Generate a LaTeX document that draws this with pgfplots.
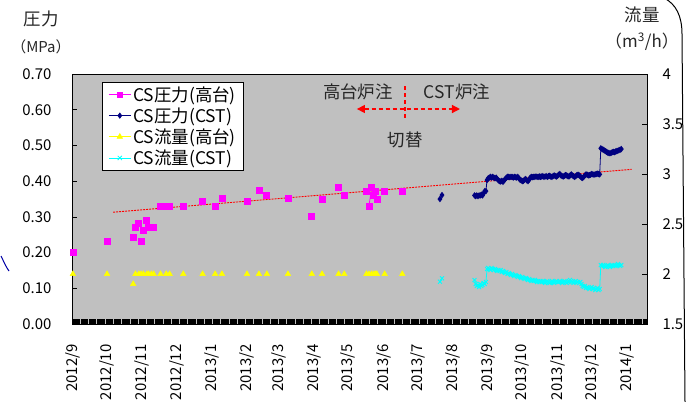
\documentclass[border=0pt]{standalone}
\usepackage{fontspec}
\setmainfont{Noto Sans CJK JP}
\usepackage{pgfplots}
\pgfplotsset{compat=1.18}
\usetikzlibrary{arrows.meta}
\definecolor{bggrey}{RGB}{192,192,192}
\definecolor{navyc}{RGB}{0,0,128}
\definecolor{magc}{RGB}{255,0,255}
\definecolor{yelc}{RGB}{255,255,0}
\definecolor{cyac}{RGB}{0,255,255}
\newcommand{\fs}{\fontsize{15}{16}\selectfont}
\newcommand{\fl}{\fontsize{17.5}{18}\selectfont}
\newcommand{\fa}{\fontsize{17.5}{19}\selectfont}
\begin{document}
\begin{tikzpicture}[x=1bp,y=1bp]
\useasboundingbox (-72,-77) rectangle (617,324);
\begin{axis}[
  at={(0,0)}, anchor=south west,
  scale only axis, width=575bp, height=250bp,
  xmin=-0.8, xmax=504.6, ymin=0, ymax=0.70,
  axis background/.style={fill=bggrey},
  axis line style={black, line width=0.8bp},
  tick align=inside, major tick length=5bp,
  xtick pos=bottom, ytick pos=left,
  xtick={0,30,61,91,122,153,181,212,242,273,303,334,365,395,426,456,487},
  xticklabels={2012/9,2012/10,2012/11,2012/12,2013/1,2013/2,2013/3,2013/4,2013/5,2013/6,2013/7,2013/8,2013/9,2013/10,2013/11,2013/12,2014/1},
  extra x ticks={0,1,...,504},
  extra x tick labels={},
  extra x tick style={major tick length=5bp, tick style={black, line width=0.45bp}},
  major tick style={black, line width=0.6bp},
  xticklabel style={yshift=-17bp, rotate=90, anchor=east, font=\fs},
  ytick={0,0.1,...,0.71},
  yticklabel style={font=\fs, xshift=-17bp, /pgf/number format/.cd, fixed, fixed zerofill, precision=2},
  /pgf/number format/assume math mode=true,
  unbounded coords=jump,
  legend cell align=left,
  legend style={at={(rel axis cs:0.0522,0.968)}, anchor=north west, fill=white, draw=black, line width=0.8bp, font=\fl, inner xsep=6bp, inner ysep=2bp, row sep=1bp},
  legend image code/.code={\draw[mark repeat=2,mark phase=2] plot coordinates {(7bp,0bp)(18bp,0bp)(29bp,0bp)};},
  clip=false,
]
\addlegendimage{magc, line width=0.8bp, mark=square*, mark size=2.5bp, mark options={solid}}
\addlegendentry{CS圧力(高台)}
\addlegendimage{navyc, line width=0.8bp, mark=diamond*, mark size=2.5bp}
\addlegendentry{CS圧力(CST)}
\addlegendimage{yelc, line width=0.8bp, mark=triangle*, mark size=3bp}
\addlegendentry{CS流量(高台)}
\addlegendimage{cyac, line width=0.8bp, mark=x, mark size=3bp}
\addlegendentry{CS流量(CST)}

% trend line
\addplot[forget plot, red, line width=0.9bp, dash pattern=on 2bp off 1bp] coordinates {(35.4,0.313) (491,0.433)};

% CS pressure (takadai)
\addplot[forget plot, magc, line width=0.8bp, mark=square*, mark size=3bp] coordinates {
(0,0.20) (1,nan) (30,0.23) (31,nan) (53,0.242) (54,nan) (55,0.27) (56,nan) (58,0.282) (59,nan)
(60,0.23) (61,nan) (62,0.261) (63,nan) (65,0.29) (66.5,0.27) (67,nan) (69,0.27) (70,nan) (71,0.27) (72,nan)
(77,0.33) (78,nan) (80,0.33) (81,nan) (82,0.33) (83,nan) (85,0.33) (86,nan) (97,0.33) (98,nan)
(114,0.342) (115,nan) (125,0.33) (126,nan) (131,0.351) (132,nan) (153,0.342) (154,nan)
(163.5,0.373) (164,nan) (170.5,0.361) (171,nan) (189,0.351) (190,nan) (210,0.30) (211,nan)
(219,0.35) (220,nan) (233.5,0.382) (234,nan) (238.5,0.361) (239,nan) (258,0.372) (259,nan)
(260.2,0.33) (262.5,0.382) (263,nan) (264.5,0.361) (265,nan) (266,0.372) (266.5,nan) (267.2,0.35) (268,nan)
(274,0.372) (275,nan) (289.5,0.372)
};

% CS pressure (CST)
\addplot[forget plot, navyc, line width=0.8bp, mark=diamond*, mark size=2.6bp] coordinates {
(322.6,0.35) (324.4,0.361) (325,nan)
(353,0.360) (354,0.358) (355,0.360) (356,0.358) (357,0.360) (358,0.360) (359,0.362) (360,0.360)
(361,0.366) (362,0.372) (363,0.372) (364,0.403) (365,0.408) (366,0.410) (367,0.412) (368,0.410)
(369,0.412) (370,0.410) (371,0.408) (372,0.410) (373,0.406) (374,0.402) (375,0.400) (376,0.399)
(377,0.401) (378,0.398) (379,0.402) (380,0.406) (381,0.410) (382,0.412) (383,0.412) (384,0.411)
(385,0.412) (386,0.412) (387,0.410) (388,0.412) (389,0.411) (390,0.410) (391,0.412) (392,0.408)
(393,0.404) (394,0.402) (395,0.400) (396,0.401) (397,0.404) (398,0.406) (399,0.402) (400,0.400)
(401,0.404) (402,0.410) (403,0.412) (404,0.411) (405,0.412) (406,0.412) (407,0.413) (408,0.412)
(409,0.412) (410,0.413) (411,0.412) (412,0.413) (413,0.414) (414,0.412) (415,0.413) (416,0.414)
(417,0.412) (418,0.414) (419,0.415) (420,0.413) (421,0.412) (422,0.414) (423,0.416) (424,0.414)
(425,0.413) (426,0.415) (427,0.418) (428,0.420) (429,0.416) (430,0.414) (431,0.413) (432,0.415)
(433,0.417) (434,0.416) (435,0.414) (436,0.413) (437,0.416) (438,0.419) (439,0.416) (440,0.414)
(441,0.412) (442,0.414) (443,0.417) (444,0.418) (445,0.416) (446,0.413) (447,0.410) (448,0.409)
(449,0.412) (450,0.416) (451,0.419) (452,0.418) (453,0.416) (454,0.417) (455,0.418) (456,0.420)
(457,0.419) (458,0.418) (459,0.419) (460,0.420) (461,0.421) (462,0.420) (463,0.419) (464,0.492)
(465,0.490) (466,0.488) (467,0.486) (468,0.484) (469,0.482) (470,0.480) (471,0.479) (472,0.478)
(473,0.479) (474,0.481) (475,0.482) (476,0.481) (477,0.483) (478,0.484) (479,0.485) (480,0.487)
(481,0.488) (482,0.490)
};

% annotation
\draw[red, line width=1.3bp, dash pattern=on 4bp off 3bp] (axis cs:291.8,0.577) -- (axis cs:291.8,0.675);
\draw[red, line width=1.3bp, dash pattern=on 4bp off 3bp, {Triangle[length=8bp,width=8bp]}-{Triangle[length=8bp,width=8bp]}] (axis cs:249.6,0.602) -- (axis cs:340.2,0.602);
\node[font=\fa, text=black!85] at (axis cs:250.5,0.650) {高台炉注};
\node[font=\fa, text=black!85] at (axis cs:337.5,0.650) {CST炉注};
\node[font=\fa, text=black!85] at (axis cs:292,0.515) {切替};
\end{axis}

\begin{axis}[
  at={(0,0)}, anchor=south west,
  scale only axis, width=575bp, height=250bp,
  xmin=-0.8, xmax=504.6, ymin=1.5, ymax=4,
  axis x line=none, axis y line*=right,
  axis line style={black, line width=0.8bp},
  tick align=inside, major tick length=5bp,
  major tick style={black, line width=0.6bp},
  ytick={1.5,2,2.5,3,3.5,4},
  yticklabel style={font=\fs, xshift=12bp},
  /pgf/number format/assume math mode=true,
  unbounded coords=jump,
  clip=false,
]
% CS flow (takadai)
\addplot[only marks, yelc, mark=triangle*, mark size=3.3bp] coordinates {
(0,2.0) (30,2.0) (53,1.9) (55,2.0) (58,2.0) (60,2.0) (62,2.0) (65,2.0) (66.5,2.0) (69,2.0) (71,2.0)
(77,2.0) (82,2.0) (85,2.0) (97,2.0) (114,2.0) (125,2.0) (131,2.0) (153,2.0) (163.5,2.0) (170.5,2.0)
(189,2.0) (210,2.0) (219,2.0) (233.5,2.0) (238.5,2.0) (258,2.0) (260.2,2.0) (262.5,2.0) (264.5,2.0)
(266,2.0) (267.2,2.0) (274,2.0) (289.5,2.0)
};
% CS flow (CST)
\addplot[cyac, line width=0.8bp, mark=x, mark size=2.8bp, mark options={line width=0.9bp}] coordinates {
(322.6,1.923) (324.4,1.957) (325,nan)
(353,1.94) (354,1.90) (355,1.88) (356,1.89) (357,1.87) (358,1.90) (359,1.88) (360,1.89) (361,1.91)
(362,1.90) (363,1.92) (364,2.05) (365,2.06) (366,2.05) (367,2.04) (368,2.06) (369,2.05) (370,2.04)
(371,2.05) (372,2.04) (373,2.03) (374,2.04) (375,2.03) (376,2.04) (377,2.02) (378,2.03) (379,2.02)
(380,2.01) (381,2.02) (382,2.00) (383,2.01) (384,2.00) (385,1.99) (386,2.00) (387,1.99) (388,1.98)
(389,1.99) (390,1.98) (391,1.97) (392,1.98) (393,1.97) (394,1.96) (395,1.97) (396,1.96) (397,1.95)
(398,1.96) (399,1.95) (400,1.94) (401,1.95) (402,1.94) (403,1.93) (404,1.94) (405,1.93) (406,1.94)
(407,1.93) (408,1.92) (409,1.93) (410,1.92) (411,1.93) (412,1.92) (413,1.93) (414,1.92) (415,1.91)
(416,1.92) (417,1.93) (418,1.92) (419,1.91) (420,1.92) (421,1.93) (422,1.92) (423,1.91) (424,1.92)
(425,1.93) (426,1.92) (427,1.92) (428,1.93) (429,1.92) (430,1.91) (431,1.92) (432,1.93) (433,1.92)
(434,1.91) (435,1.92) (436,1.93) (437,1.94) (438,1.93) (439,1.92) (440,1.91) (441,1.92) (442,1.93)
(443,1.92) (444,1.92) (445,1.91) (446,1.92) (447,1.90) (448,1.88) (449,1.87) (450,1.88) (451,1.86)
(452,1.87) (453,1.86) (454,1.85) (455,1.86) (456,1.87) (457,1.85) (458,1.86) (459,1.84) (460,1.85)
(461,1.86) (462,1.84) (463,1.85) (464,2.09) (465,2.08) (466,2.09) (467,2.08) (468,2.07) (469,2.08)
(470,2.09) (471,2.08) (472,2.07) (473,2.08) (474,2.09) (475,2.08) (476,2.09) (477,2.08) (478,2.09)
(479,2.10) (480,2.09) (481,2.08) (482,2.09)
};
\end{axis}

% axis titles
\node[font=\fs, text=black!85, align=center, anchor=north, inner sep=0pt] at (-31,313) {{\fa 圧力}\\[11bp]（MPa）};
\node[font=\fa, text=black!85] at (570,309) {流量};
\node[font=\fontsize{17}{18}\selectfont, text=black!85] at (570,282) {（m\textsuperscript{3}/h）};
% decorative outline fragments
\draw[black, line width=1bp] (592,326) .. controls (604,320) and (610,308) .. (610,290) -- (613,-78);
\draw[navyc!70!blue, line width=1bp] (-71,68) .. controls (-68,62) and (-66,57) .. (-63,53);
\end{tikzpicture}
\end{document}
